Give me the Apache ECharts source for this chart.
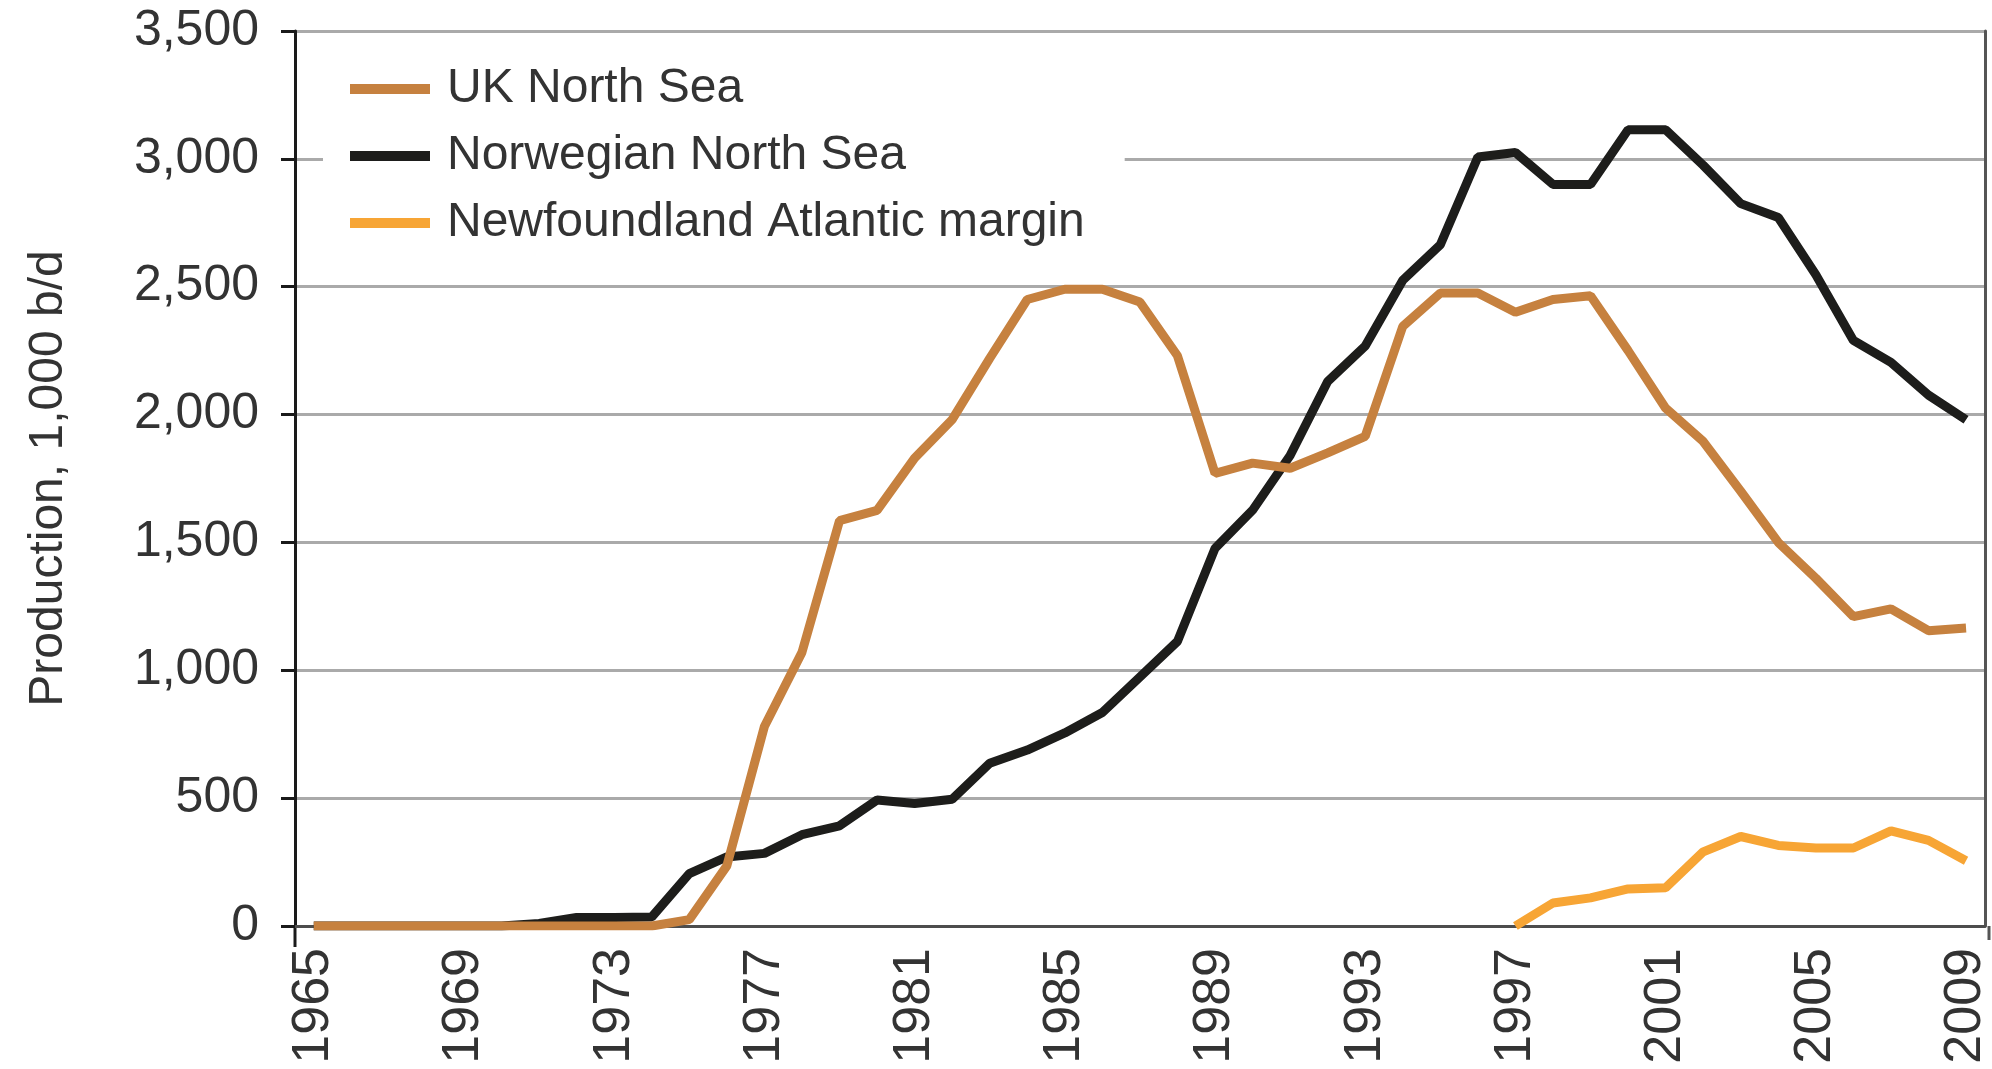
<!DOCTYPE html>
<html>
<head>
<meta charset="utf-8">
<script src="https://cdn.jsdelivr.net/npm/echarts@6/dist/echarts.min.js"></script>
<style>
  html, body { margin: 0; padding: 0; background: #fff; }
  #chart { width: 1992px; height: 1069px; }
</style>
</head>
<body>
<div id="chart"></div>
<script>
const years = []
for (let y = 1965; y <= 2009; y++) years.push(String(y))

const yTicks = [0, 500, 1000, 1500, 2000, 2500, 3000, 3500]

const ukNorthSea = [
  0, 0, 0, 0, 0, 0, 0, 0, 0, 0,
  25, 235, 780, 1070, 1585, 1625, 1830, 1980, 2220, 2450,
  2490, 2490, 2440, 2230, 1770, 1810, 1790, 1850, 1915, 2345,
  2475, 2475, 2400, 2450, 2465, 2250, 2025, 1895, 1700, 1500,
  1360, 1210, 1240, 1155, 1165
]

const norwegianNorthSea = [
  0, 0, 0, 0, 0, 0, 10, 33, 33, 35,
  205, 270, 284, 357, 392, 493, 479, 496, 636, 688,
  755, 835, 974, 1113, 1477, 1626, 1840, 2129, 2268, 2525,
  2664, 3007, 3025, 2900, 2900, 3114, 3114, 2975, 2825, 2771,
  2547, 2290, 2204, 2076, 1980
]

const newfoundlandYears = ['1997', '1998', '1999', '2000', '2001', '2002', '2003',
  '2004', '2005', '2006', '2007', '2008', '2009']
const newfoundland = [0, 90, 110, 145, 150, 290, 350, 315, 305, 305, 372, 335, 255]

const font = 'Liberation Sans, Arial, sans-serif'
const gridLeft = 295
const gridRight = 3
const gridTop = 31
const gridBottom = 143

const chart = echarts.init(document.getElementById('chart'))

const option = {
  backgroundColor: '#fff',
  animation: false,
  textStyle: { fontFamily: font },
  grid: {
    left: gridLeft,
    right: gridRight,
    top: gridTop,
    bottom: gridBottom,
    containLabel: false
  },
  legend: {
    orient: 'vertical',
    left: 323,
    top: 45,
    padding: [20, 40, 20, 27],
    backgroundColor: '#fff',
    itemWidth: 80,
    itemHeight: 10,
    itemGap: 19,
    icon: 'rect',
    textStyle: {
      fontSize: 48,
      color: '#333',
      padding: [0, 0, 0, 12]
    },
    data: ['UK North Sea', 'Norwegian North Sea', 'Newfoundland Atlantic margin']
  },
  xAxis: {
    type: 'category',
    data: years,
    boundaryGap: true,
    axisLine: { lineStyle: { color: '#4d4d4d', width: 3 } },
    axisTick: { show: false },
    axisLabel: {
      interval: 3,
      rotate: 90,
      fontSize: 52,
      color: '#333',
      margin: 22
    },
    splitLine: { show: false }
  },
  yAxis: [
    {
      type: 'value',
      min: yTicks[0],
      max: yTicks[yTicks.length - 1],
      interval: 500,
      name: 'Production, 1,000 b/d',
      nameLocation: 'middle',
      nameGap: 222,
      nameTextStyle: { fontSize: 48, color: '#333' },
      axisLine: { show: true, lineStyle: { color: '#1a1a1a', width: 3 } },
      axisTick: { show: true, length: 14, lineStyle: { color: '#1a1a1a', width: 3 } },
      axisLabel: {
        fontSize: 50,
        color: '#333',
        margin: 36,
        formatter: v => v.toLocaleString('en-US')
      },
      splitLine: { show: true, lineStyle: { color: '#aaa', width: 3 } }
    },
    {
      type: 'value',
      position: 'right',
      min: yTicks[0],
      max: yTicks[yTicks.length - 1],
      interval: 500,
      axisLine: { show: true, lineStyle: { color: '#555', width: 3 } },
      axisTick: { show: false },
      axisLabel: { show: false },
      splitLine: { show: false }
    }
  ],
  series: [
    {
      name: 'UK North Sea',
      type: 'line',
      data: ukNorthSea,
      showSymbol: false,
      color: '#c6813f',
      lineStyle: { width: 9, color: '#c6813f' },
      z: 3
    },
    {
      name: 'Norwegian North Sea',
      type: 'line',
      data: norwegianNorthSea,
      showSymbol: false,
      color: '#1d1d1b',
      lineStyle: { width: 9, color: '#1d1d1b' },
      z: 2
    },
    {
      name: 'Newfoundland Atlantic margin',
      type: 'line',
      data: years.map(y => {
        const i = newfoundlandYears.indexOf(y)
        return i < 0 ? null : newfoundland[i]
      }),
      showSymbol: false,
      color: '#f7a535',
      lineStyle: { width: 9, color: '#f7a535' },
      z: 4
    }
  ],
  graphic: [
    {
      type: 'line',
      shape: { x1: gridLeft, y1: 1069 - gridBottom, x2: gridLeft, y2: 1069 - gridBottom + 21 },
      style: { stroke: '#1a1a1a', lineWidth: 3 }
    },
    {
      type: 'line',
      shape: { x1: 1992 - gridRight, y1: 1069 - gridBottom, x2: 1992 - gridRight, y2: 1069 - gridBottom + 14 },
      style: { stroke: '#555', lineWidth: 3 }
    }
  ]
}

chart.setOption(option)
</script>
</body>
</html>
